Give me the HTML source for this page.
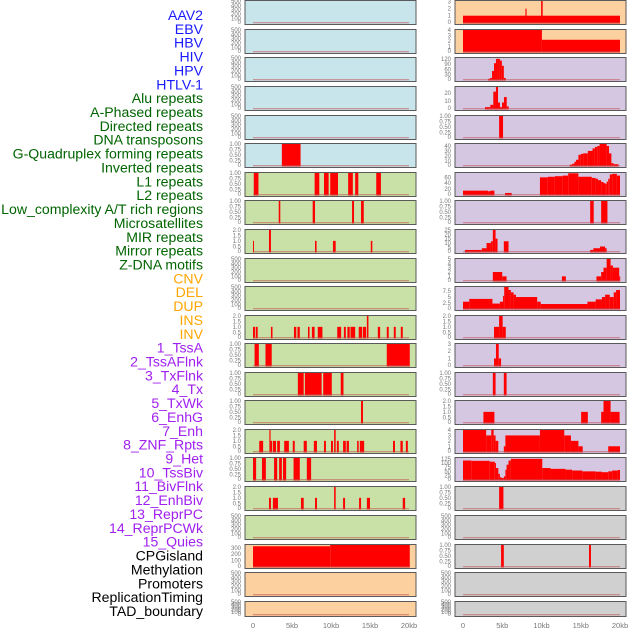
<!DOCTYPE html>
<html><head><meta charset="utf-8"><style>
body{margin:0;background:#fff;width:630px;height:630px;overflow:hidden}
svg{display:block}
</style></head><body>
<svg id="chart" width="630" height="630" xmlns="http://www.w3.org/2000/svg"></svg>
<script>
const labels = ["AAV2","EBV","HBV","HIV","HPV","HTLV-1","Alu repeats","A-Phased repeats","Directed repeats","DNA transposons","G-Quadruplex forming repeats","Inverted repeats","L1 repeats","L2 repeats","Low_complexity A/T rich regions","Microsatellites","MIR repeats","Mirror repeats","Z-DNA motifs","CNV","DEL","DUP","INS","INV","1_TssA","2_TssAFlnk","3_TxFlnk","4_Tx","5_TxWk","6_EnhG","7_Enh","8_ZNF_Rpts","9_Het","10_TssBiv","11_BivFlnk","12_EnhBiv","13_ReprPC","14_ReprPCWk","15_Quies","CPGisland","Methylation","Promoters","ReplicationTiming","TAD_boundary"];
const labelColors = ["#1a1aff","#1a1aff","#1a1aff","#1a1aff","#1a1aff","#1a1aff","#006400","#006400","#006400","#006400","#006400","#006400","#006400","#006400","#006400","#006400","#006400","#006400","#006400","#ffa500","#ffa500","#ffa500","#ffa500","#ffa500","#a020f0","#a020f0","#a020f0","#a020f0","#a020f0","#a020f0","#a020f0","#a020f0","#a020f0","#a020f0","#a020f0","#a020f0","#a020f0","#a020f0","#a020f0","#000","#000","#000","#000","#000"];
const xTicks = [0,5,10,15,20];
const xTickLabels = ["0","5kb","10kb","15kb","20kb"];
const T500=[0,100,200,300,400,500], T1=[0,0.25,0.5,0.75,1], T2=[0,0.5,1,1.5,2];
const leftBg = ["#c9e5ec","#c9e5ec","#c9e5ec","#c9e5ec","#c9e5ec","#c9e5ec","#c9e1a6","#c9e1a6","#c9e1a6","#c9e1a6","#c9e1a6","#c9e1a6","#c9e1a6","#c9e1a6","#c9e1a6","#c9e1a6","#c9e1a6","#c9e1a6","#c9e1a6","#fdd09f","#fdd09f","#fdd09f"];
const rightBg = ["#fdd09f","#fdd09f","#d5c6e2","#d5c6e2","#d5c6e2","#d5c6e2","#d5c6e2","#d5c6e2","#d5c6e2","#d5c6e2","#d5c6e2","#d5c6e2","#d5c6e2","#d5c6e2","#d5c6e2","#d5c6e2","#d5c6e2","#d0d0d0","#d0d0d0","#d0d0d0","#d0d0d0","#d0d0d0"];
const leftYMax = [500,500,500,500,500,1,1,1,2,500,500,2,1,1,1,2,1,2,500,345,500,500];
const leftTicks = [T500,T500,T500,T500,T500,T1,T1,T1,T2,T500,T500,T2,T1,T1,T1,T2,T1,T2,T500,[0,100,200,300],T500,T500];
const leftSegs = [[],[],[],[],[],
 [[3.7,6.1,1]],
 [[0.1,0.7,1],[7.9,8.5,1],[9.1,9.7,1],[9.9,10.9,1],[12.2,12.8,1],[13.1,13.5,1],[15.8,16.4,1]],
 [[3.3,3.5,1],[7.65,7.95,1],[12.7,12.95,1],[13.85,14.2,1]],
 [[0,0.12,1],[2.05,2.3,2],[7.95,8.15,1],[10.25,10.6,1],[15.1,15.3,1]],
 [],[],
 [[0,0.25,1],[0.35,0.6,1],[2.3,2.5,1],[5.25,5.55,1],[5.7,6.0,1],[7.05,7.25,1],[7.55,7.9,1],[8.3,8.9,1],[10.8,11.3,1],[11.65,11.9,1],[12.1,12.4,1],[12.5,13.1,1],[13.55,14.0,1],[14.1,14.5,1],[14.6,14.8,2],[16.0,16.3,1],[17.15,17.4,1],[18.05,18.3,1],[18.95,19.2,1]],
 [[0.2,0.75,1],[1.6,2.4,1],[17.15,20.1,1]],
 [[5.75,6.5,1],[6.65,8.8,1],[9.0,10.1,1],[11.25,11.6,1]],
 [[13.85,14.1,1]],
 [[0.8,1.3,1],[2.1,2.25,2],[2.25,2.45,1],[2.55,2.95,1],[3.1,3.45,1],[4.0,4.6,1],[5.1,5.35,1],[6.5,6.9,1],[7.8,8.2,1],[9.1,9.35,1],[10.0,10.25,1],[10.4,10.6,2],[10.75,11.0,1],[11.55,11.9,1],[12.0,12.3,1],[13.35,13.55,1],[13.7,14.25,1],[17.95,18.2,1],[18.9,19.2,1],[19.6,19.85,1]],
 [[0,0.4,1],[1.15,1.65,1],[2.7,3.1,1],[3.35,3.7,1],[3.85,4.25,1],[5.2,6.0,1],[6.9,7.45,1]],
 [[2.05,2.3,1],[2.55,3.2,1],[6.15,6.5,1],[7.95,8.2,1],[10.4,10.6,2],[11.55,11.8,1],[13.6,13.85,1],[14.6,15.0,1],[19.2,19.5,1]],
 [],
 [[0,9.9,325],[9.9,20.1,345]],
 [],[]];
const rightYMax = [3.1,4,125,28,1,44,75,1,25,5,9.3,2,3,1,2,4,130,1,500,1,500,500];
const rightTicks = [[0,1,2,3],[0,1,2,3,4],[0,30,60,90,120],[0,10,20],T1,[0,10,20,30,40],[0,20,40,60],T1,[0,5,10,15,20,25],[0,1,2,3,4,5],[0,2.5,5,7.5],T2,[0,1,2,3],T1,T2,[0,1,2,3,4],[0,25,50,75,100,125],T1,T500,T1,T500,T500];
const rightSegs = [
 [[0,20,1],[7.95,8.1,2],[9.95,10.15,3.1]],
 [[0,10.05,4],[10.05,20,2.2]],
 [[3.2,3.45,5],[3.45,3.7,10],[3.7,3.95,50],[3.95,4.2,95],[4.2,4.45,120],[4.45,4.7,120],[4.7,4.95,110],[4.95,5.2,80],[5.2,5.45,10]],
 [[2.8,3.48,2],[3.48,3.86,5],[3.86,4.2,22],[4.2,4.46,28],[4.46,4.71,8],[4.71,4.97,2],[4.97,5.22,8],[5.22,5.57,15],[5.57,5.82,3]],
 [[4.6,5.1,1]],
 [[13.6,13.9,2],[13.9,14.2,4],[14.2,14.4,8],[14.4,14.7,12],[14.7,15.0,22],[15.0,15.3,24],[15.3,15.9,25],[15.9,16.5,30],[16.5,16.8,35],[16.8,17.1,38],[17.1,17.4,40],[17.4,18.3,44],[18.3,18.6,40],[18.6,18.9,25],[18.9,19.2,5],[19.2,19.8,3]],
 [[0,3.2,14],[3.2,3.5,12],[3.5,4.0,14],[5.35,6.2,6],[9.8,10.8,60],[10.8,11.7,62],[11.7,12.7,64],[12.7,13.4,66],[13.4,14.7,74],[14.7,16.4,62],[16.4,16.9,58],[16.9,17.2,55],[17.2,17.6,50],[17.6,17.9,44],[17.9,18.1,40],[18.1,18.3,38],[18.3,18.5,45],[18.5,18.7,55],[18.7,19.0,70],[19.0,19.6,72],[19.6,20,66]],
 [[16.2,16.65,1],[17.6,18.4,1]],
 [[0.25,2.4,2],[2.4,3.0,4],[3.0,3.55,10],[3.55,3.8,12],[3.8,4.15,25],[4.15,4.4,15],[5.2,5.8,12],[16.2,16.6,2],[16.6,17.45,4],[17.45,18.1,6],[18.1,18.3,4]],
 [[3.8,5.0,2],[5.0,5.55,1],[12.6,13.1,1],[17.0,17.6,1],[17.6,17.9,2],[17.9,18.3,3],[18.3,18.8,5],[18.8,19.1,3.5],[19.1,19.9,3],[19.9,20,1]],
 [[0,0.8,3],[0.8,3.75,4.2],[3.75,4.7,2.2],[4.7,5.1,3],[5.1,5.25,5.5],[5.25,5.8,9.3],[5.8,6.1,8],[6.1,6.45,7],[6.45,6.75,6],[6.75,9.45,5],[9.45,9.9,3],[9.9,15.85,2],[15.85,16.9,3],[16.9,17.7,4],[17.7,18.1,5],[18.1,18.7,6],[18.7,19.2,5],[19.2,19.5,7],[19.5,20,8]],
 [[3.95,4.6,1],[4.6,5.05,2],[5.05,5.45,1]],
 [[3.95,4.2,1],[4.2,4.55,3],[4.55,4.85,1]],
 [[3.8,4.15,1],[5.2,5.55,1]],
 [[2.6,4.0,1],[15.05,15.9,1],[17.6,17.9,1],[17.9,18.8,2],[18.8,19.95,1]],
 [[0,2.95,4],[2.95,3.6,3],[3.6,3.9,4],[3.9,4.15,3],[4.15,4.5,2],[5.2,5.4,1],[5.4,9.8,3],[9.8,12.9,4],[12.9,13.75,3],[13.75,14.7,2],[14.7,15.25,1],[18.5,20,1]],
 [[0,1.05,115],[1.05,3.4,113],[3.4,4.05,108],[4.05,4.2,100],[4.2,4.5,70],[4.5,4.7,35],[4.7,4.9,15],[4.9,5.2,10],[5.2,5.4,20],[5.4,5.55,60],[5.55,5.8,90],[5.8,6.1,115],[6.1,10.1,125],[10.1,11.15,70],[11.15,13.05,65],[13.05,13.9,60],[13.9,15.2,55],[15.2,16.9,50],[16.9,17.7,48],[17.7,18.5,45],[18.5,19.0,50],[19.0,19.7,55],[19.7,20,58]],
 [[4.6,5.15,1]],
 [],
 [[4.85,5.2,1],[16.05,16.3,1]],
 [],[]];
const rowTops = [0,29,57,86,115,143,172,200,229,258,286,315,343,372,400,429,457,486,515,544,572,601];
const rowHeights = [25,25,25,25,25,25,25,25,25,25,25,25,25,25,25,25,25,25,25,25,25,16];

const svg = document.getElementById('chart');
const NS = 'http://www.w3.org/2000/svg';
function mk(tag, attrs, parent){const e=document.createElementNS(NS,tag);for(const k in attrs)e.setAttribute(k,attrs[k]);(parent||svg).appendChild(e);return e;}

labels.forEach((t,i)=>{
  const e = mk('text',{x:203,y:15+i*13.86+5,'text-anchor':'end','font-family':'Liberation Sans, sans-serif','font-size':'14.1',fill:labelColors[i]});
  e.textContent = t;
  
  
});

function drawCol(x0, x1, zeroX, px20, bg, ymaxArr, ticksArr, segsArr, side){
  const kbX = kb => zeroX + kb*(px20-zeroX)/20;
  rowTops.forEach((top,r)=>{
    const h = rowHeights[r];
    const g = mk('g',{});
    
    
    mk('rect',{x:x0,y:top+0.5,width:x1-x0,height:h-1,fill:bg[r],stroke:'#5a5a5a','stroke-width':1},g);
    const base = top+h-2.3, ytop = top+1;
    const yS = v => base - v/ymaxArr[r]*(base-ytop);
    segsArr[r].forEach(s=>{
      const b = mk('rect',{x:kbX(s[0]),y:yS(s[2]),width:Math.max(1,kbX(s[1])-kbX(s[0])),height:base-yS(s[2])+0.8,fill:'#ff0000'},g);
      
      
    });
    mk('line',{x1:kbX(0),x2:kbX(20),y1:base,y2:base,stroke:'#c05050','stroke-width':1,opacity:0.7},g);
    ticksArr[r].forEach(tv=>{
      const ty = Math.min(top+h-1, Math.max(top+2, yS(tv)+2));
      const tl = mk('text',{x:x0-4,y:ty,'text-anchor':'end','font-family':'Liberation Sans, sans-serif','font-size':'6',fill:'#777'},g);
      tl.textContent = tv===0?'0':(ticksArr[r]===T1?tv.toFixed(2):(Number.isInteger(tv)&&ticksArr[r]!==T2?String(tv):tv.toFixed(1)));
      
      
    });
  });
  xTicks.forEach((k,i)=>{
    const t = mk('text',{x:kbX(k),y:628,'text-anchor':'middle','font-family':'Liberation Sans, sans-serif','font-size':'7.5',fill:'#777'});
    t.textContent = xTickLabels[i];
    
    
  });
}
drawCol(245,416,253,409,leftBg,leftYMax,leftTicks,leftSegs,'left');
drawCol(455,626,463,620,rightBg,rightYMax,rightTicks,rightSegs,'right');
</script>
</body></html>
